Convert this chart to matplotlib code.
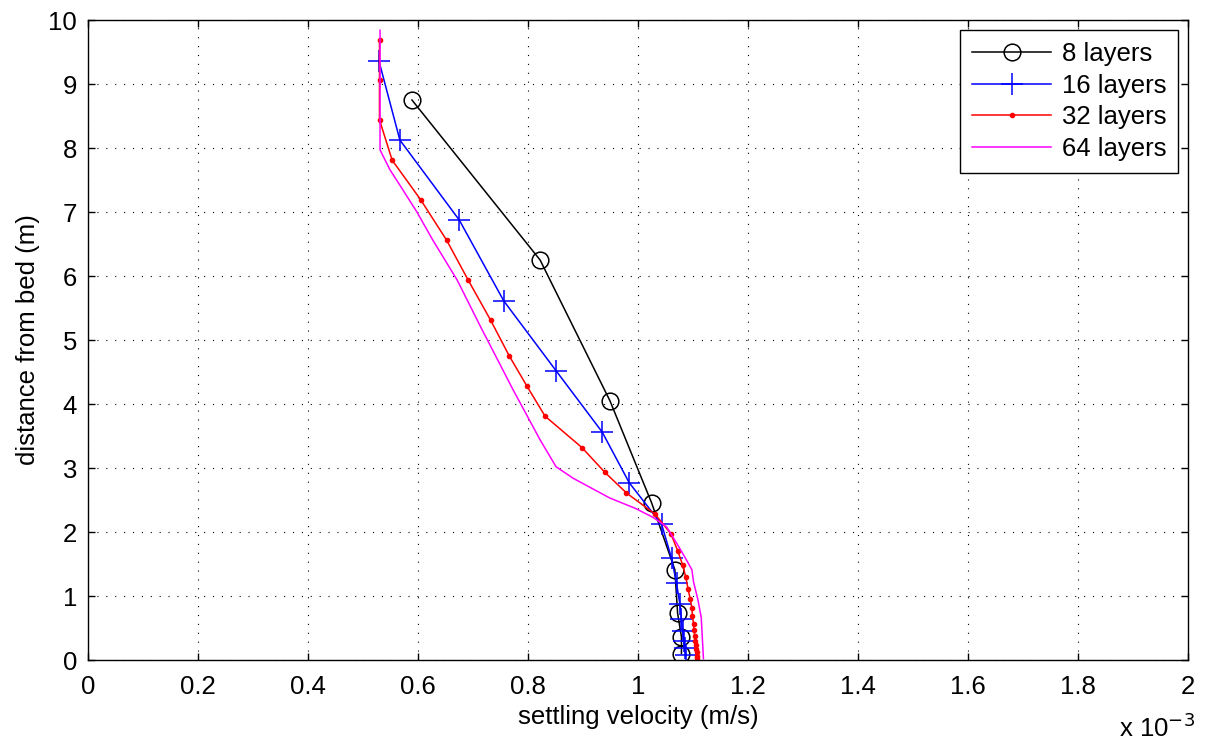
import matplotlib
matplotlib.use("Agg")
import matplotlib.pyplot as plt
import numpy as np

plt.rcParams['font.family'] = ['Liberation Sans', 'DejaVu Sans']

# 8 layers
v8 = [0.589, 0.822, 0.949, 1.025, 1.067, 1.072, 1.079, 1.079]
z8 = [8.75, 6.25, 4.05, 2.45, 1.41, 0.73, 0.36, 0.10]

# 16 layers
v16 = [0.529, 0.567, 0.675, 0.756, 0.851, 0.935, 0.984, 1.043, 1.061,
       1.070, 1.076, 1.079, 1.081, 1.083, 1.085, 1.087]
z16 = [9.36, 8.125, 6.875, 5.61, 4.52, 3.56, 2.77, 2.12, 1.59,
       1.20, 0.88, 0.64, 0.45, 0.30, 0.18, 0.08]

# 32 layers
v32 = [0.530, 0.530, 0.530, 0.553, 0.605, 0.652, 0.691, 0.732, 0.766, 0.798,
       0.831, 0.898, 0.940, 0.979, 1.031, 1.060, 1.072, 1.081, 1.087, 1.091,
       1.095, 1.098, 1.099, 1.101, 1.102, 1.103, 1.104, 1.105, 1.106, 1.107,
       1.108, 1.108]
z32 = [9.69, 9.06, 8.44, 7.81, 7.19, 6.56, 5.94, 5.31, 4.75, 4.28,
       3.81, 3.32, 2.93, 2.61, 2.28, 1.97, 1.71, 1.49, 1.29, 1.11,
       0.95, 0.81, 0.68, 0.57, 0.47, 0.38, 0.30, 0.23, 0.17, 0.12,
       0.07, 0.03]

# 64 layers
v64 = [0.531, 0.531, 0.531, 0.531, 0.531, 0.549, 0.567, 0.598, 0.627, 0.671,
       0.713, 0.773, 0.822, 0.851, 0.882, 0.949, 0.995, 1.027, 1.052, 1.070,
       1.085, 1.098, 1.101, 1.109, 1.115, 1.117, 1.119]
z64 = [9.84, 9.50, 9.00, 8.50, 7.97, 7.66, 7.42, 7.00, 6.56, 5.94,
       5.22, 4.22, 3.44, 3.02, 2.84, 2.53, 2.37, 2.23, 2.08, 1.83,
       1.61, 1.41, 1.22, 0.94, 0.66, 0.34, 0.02]

xticks = [0, 0.2, 0.4, 0.6, 0.8, 1, 1.2, 1.4, 1.6, 1.8, 2]
xticklabels = ['0', '0.2', '0.4', '0.6', '0.8', '1', '1.2', '1.4', '1.6', '1.8', '2']
yticks = list(range(0, 11))

FS = 18.5

fig = plt.figure(figsize=(12.08, 7.43), dpi=100)
ax = fig.add_axes([88/1208, 1-660/743, 1100/1208, 640/743])

ax.plot(np.array(v8)*1e-3, z8, color='black', lw=1.1, marker='o', ms=12,
        mfc='none', mec='black', mew=1.1, label='8 layers')
ax.plot(np.array(v16)*1e-3, z16, color='blue', lw=1.1, marker='+', ms=16,
        mew=1.1, label='16 layers')
ax.plot(np.array(v32)*1e-3, z32, color='red', lw=1.1, marker='.', ms=6,
        label='32 layers')
ax.plot(np.array(v64)*1e-3, z64, color='magenta', lw=1.1, label='64 layers')

ax.set_xlim(0, 2e-3)
ax.set_ylim(0, 10)
ax.set_xticks(np.array(xticks)*1e-3)
ax.set_xticklabels(xticklabels)
ax.set_yticks(yticks)
ax.tick_params(direction='in', top=True, right=True, length=5, width=1,
               labelsize=FS)
ax.tick_params(axis='x', pad=11)
ax.tick_params(axis='y', pad=8)
ax.grid(True, color='black', linestyle=(0, (1, 7)), lw=0.8)
for s in ax.spines.values():
    s.set_linewidth(1.0)

ax.set_xlabel('settling velocity (m/s)', fontsize=FS, labelpad=4)
ax.set_ylabel('distance from bed (m)', fontsize=FS, labelpad=6)

fig.text(1119/1208, 1-737/743, r'x 10$^{-3}$', fontsize=FS, va='baseline',
         ha='left')

leg = ax.legend(loc='upper right', fontsize=FS, handlelength=3.1,
                fancybox=False, framealpha=1, edgecolor='black',
                borderaxespad=0.4, labelspacing=0.3, borderpad=0.45,
                handletextpad=0.4)
leg.get_frame().set_linewidth(1.0)

fig.savefig('out.png', dpi=100)
